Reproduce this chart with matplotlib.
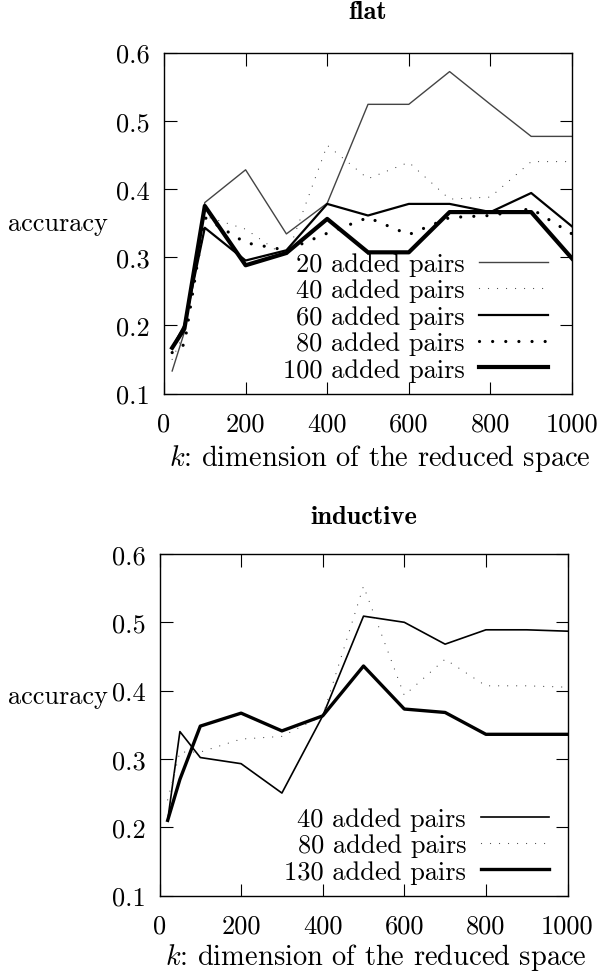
import numpy as np
import matplotlib
matplotlib.use("Agg")
import matplotlib.pyplot as plt

plt.rcParams['font.family'] = ['cmr10', 'DejaVu Serif']
plt.rcParams['mathtext.fontset'] = 'cm'
plt.rcParams['axes.formatter.use_mathtext'] = True
plt.rcParams['font.size'] = 19

# ---- data ----
k_vals = [20, 50, 100, 200, 300, 400, 500, 600, 700, 800, 900, 1000]

flat_20 = [0.133, 0.19, 0.380, 0.428, 0.334, 0.379, 0.524, 0.524, 0.572, 0.524, 0.477, 0.477]
flat_40 = [0.15, 0.19, 0.360, 0.341, 0.300, 0.464, 0.415, 0.439, 0.385, 0.388, 0.440, 0.440]
flat_60 = [0.167, 0.20, 0.343, 0.295, 0.310, 0.378, 0.361, 0.378, 0.378, 0.366, 0.394, 0.345]
flat_80 = [0.160, 0.172, 0.358, 0.321, 0.310, 0.335, 0.358, 0.333, 0.358, 0.361, 0.371, 0.334]
flat_100 = [0.167, 0.195, 0.375, 0.288, 0.306, 0.356, 0.307, 0.307, 0.366, 0.366, 0.366, 0.298]

ind_40 = [0.21, 0.340, 0.302, 0.293, 0.250, 0.363, 0.509, 0.500, 0.468, 0.489, 0.489, 0.487]
ind_80 = [0.24, 0.31, 0.310, 0.329, 0.333, 0.363, 0.553, 0.393, 0.446, 0.407, 0.407, 0.405]
ind_130 = [0.21, 0.27, 0.348, 0.367, 0.341, 0.363, 0.436, 0.373, 0.368, 0.336, 0.336, 0.336]

flat_labels = ["20 added pairs", "40 added pairs", "60 added pairs", "80 added pairs", "100 added pairs"]
ind_labels = ["40 added pairs", "80 added pairs", "130 added pairs"]

x_ticks = [0, 200, 400, 600, 800, 1000]
y_ticks = [0.1, 0.2, 0.3, 0.4, 0.5, 0.6]

# line styles (gnuplot-like)
sty_thin = dict(color="#444444", lw=1.0, ls="-")
sty_sparse = dict(color="#444444", lw=0.9, ls=(0, (0.01, 7.2)))
sty_mid = dict(color="black", lw=1.6, ls="-")
sty_dots = dict(color="black", lw=2.3, ls=(0, (0.01, 4.1)))
sty_thick = dict(color="black", lw=3.0, ls="-")


def style_axes(ax, xlab_y):
    ax.set_xlim(0, 1000)
    ax.set_ylim(0.1, 0.6)
    ax.set_xticks(x_ticks)
    ax.set_xticklabels([str(t) for t in x_ticks])
    ax.set_yticks(y_ticks)
    ax.set_yticklabels(["%.1f" % t for t in y_ticks])
    ax.tick_params(direction="in", length=9, width=0.8, top=True, right=True)
    ax.tick_params(axis="x", pad=13)
    ax.tick_params(axis="y", pad=10)
    for sp in ax.spines.values():
        sp.set_linewidth(1.0)
    ax.set_xlabel(r"$k$: dimension of the reduced space", fontsize=20.5, va="baseline")
    ax.xaxis.set_label_coords(0.53, xlab_y)


def add_legend(ax, anchor):
    ax.legend(loc="lower right", bbox_to_anchor=anchor, frameon=False,
              markerfirst=False, handlelength=2.6, handletextpad=0.55,
              labelspacing=0.1, borderpad=0, borderaxespad=0)


fig = plt.figure(figsize=(6.01, 9.78), dpi=100)

# top: flat
ax1 = fig.add_axes([164 / 601, 1 - 394.5 / 978, 408 / 601, 341 / 978])
series = [flat_20, flat_40, flat_60, flat_80, flat_100]
styles = [sty_thin, sty_sparse, sty_mid, sty_dots, sty_thick]
for vals, lab, st in zip(series, flat_labels, styles):
    ax1.plot(k_vals, vals, label=lab, dash_capstyle="round", **st)
style_axes(ax1, -0.21)
ax1.set_ylabel("accuracy", rotation=0, ha="right", va="center")
ax1.yaxis.set_label_coords(-0.137, 0.5)
ax1.text(0.5, 1.12, "flat", ha="center", va="center", transform=ax1.transAxes,
         fontfamily="cmb10", fontsize=19)
add_legend(ax1, (0.94, 0.035))

# bottom: inductive
ax2 = fig.add_axes([159.5 / 601, 1 - 896.5 / 978, 408 / 601, 341.5 / 978])
series = [ind_40, ind_80, ind_130]
styles = [dict(color="black", lw=1.2, ls="-"), sty_sparse, dict(color="black", lw=2.4, ls="-")]
for vals, lab, st in zip(series, ind_labels, styles):
    ax2.plot(k_vals, vals, label=lab, dash_capstyle="round", **st)
style_axes(ax2, -0.20)
ax2.set_ylabel("accuracy", rotation=0, ha="right", va="center")
ax2.yaxis.set_label_coords(-0.126, 0.584)
ax2.text(0.5, 1.11, "inductive", ha="center", va="center", transform=ax2.transAxes,
         fontfamily="cmb10", fontsize=19)
add_legend(ax2, (0.955, 0.035))

fig.savefig("out.png", dpi=100)
